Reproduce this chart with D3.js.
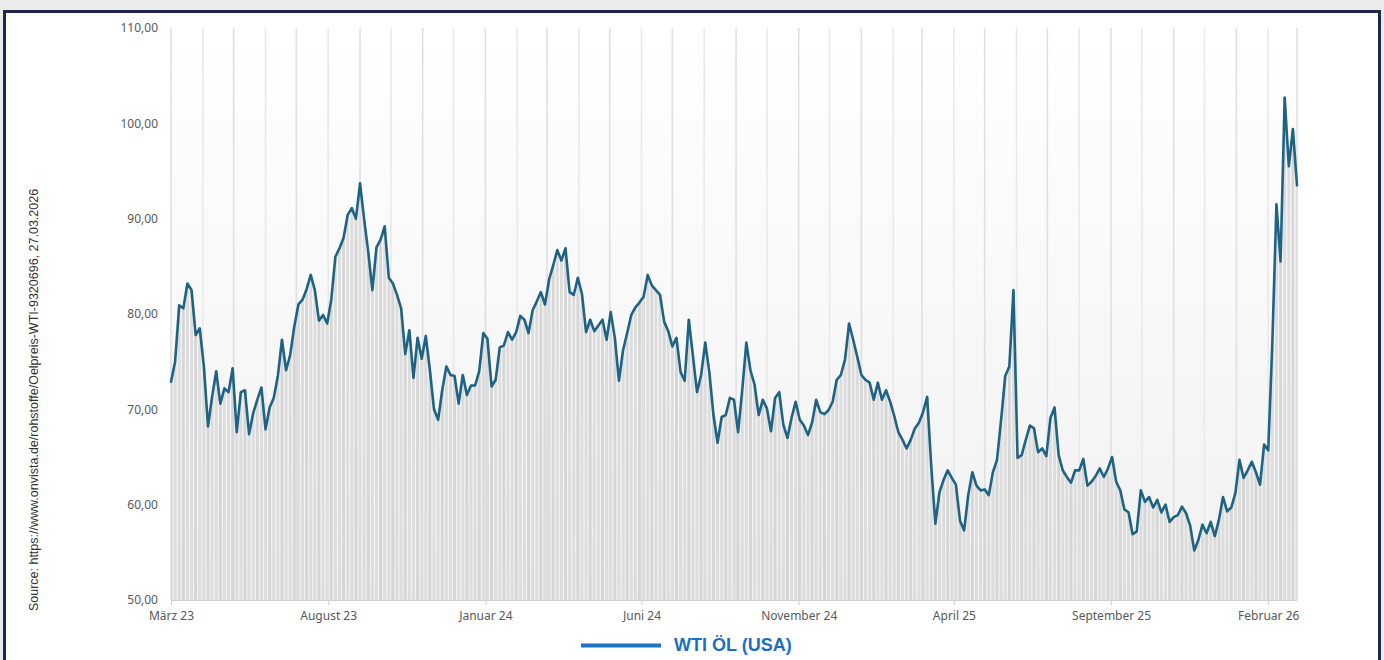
<!DOCTYPE html>
<html><head><meta charset="utf-8">
<script src="https://cdn.jsdelivr.net/npm/d3@7"></script>
<style>body{margin:0;background:#ececec;overflow:hidden}</style>
</head><body>
<svg id="c" width="1384" height="660"></svg>
<script>
const startDate = "2023-03-01";
const endDate = "2026-03-01";
const stepDays = 4;
const prices = [
72.9,75.0,80.9,80.6,83.2,82.5,77.8,78.5,74.5,68.2,
71.3,74.0,70.6,72.2,71.8,74.3,67.6,71.8,72.0,67.4,
69.6,71.0,72.3,67.9,70.2,71.2,73.5,77.3,74.1,75.7,
78.7,81.0,81.5,82.6,84.1,82.5,79.3,79.9,79.0,81.5,
86.0,86.9,88.0,90.4,91.1,90.0,93.7,89.9,86.5,82.5,
87.0,87.8,89.2,83.8,83.2,82.0,80.6,75.8,78.3,73.3,
77.5,75.3,77.7,74.1,70.0,68.9,72.0,74.5,73.6,73.5,
70.6,73.6,71.5,72.5,72.5,74.0,78.0,77.4,72.4,73.1,
76.5,76.7,78.1,77.3,78.1,79.8,79.4,78.0,80.4,81.3,
82.3,81.0,83.6,85.1,86.7,85.6,86.9,82.3,82.0,83.8,
82.1,78.1,79.4,78.2,78.8,79.4,77.3,80.2,77.5,73.0,
76.2,78.0,79.9,80.7,81.2,81.8,84.1,83.0,82.5,82.0,
79.2,78.2,76.6,77.5,73.9,73.0,79.4,75.6,71.8,73.6,
77.0,73.9,69.4,66.5,69.2,69.4,71.2,71.0,67.6,72.0,
77.0,74.1,72.6,69.4,71.0,70.1,67.7,71.2,71.8,68.4,
67.0,69.1,70.8,68.9,68.3,67.3,68.6,71.0,69.7,69.5,
69.9,70.8,73.1,73.6,75.2,79.0,77.3,75.5,73.6,73.1,
72.8,71.0,72.8,71.0,72.0,70.8,69.3,67.6,66.8,65.9,
66.8,68.0,68.6,69.7,71.3,64.0,58.0,61.3,62.6,63.6,
62.8,62.1,58.3,57.3,61.0,63.4,62.0,61.5,61.6,61.0,
63.4,64.7,68.9,73.5,74.5,82.5,64.9,65.2,66.8,68.3,
68.0,65.5,65.9,65.1,69.1,70.2,65.2,63.6,62.9,62.3,
63.6,63.6,64.8,62.0,62.4,63.0,63.8,62.9,63.8,65.0,
62.4,61.5,59.5,59.2,56.9,57.2,61.5,60.3,60.8,59.7,
60.5,59.2,60.0,58.2,58.7,58.9,59.8,59.1,57.8,55.2,
56.3,57.9,57.0,58.2,56.7,58.4,60.8,59.3,59.7,61.2,
64.7,62.8,63.6,64.5,63.4,62.1,66.3,65.7,77.0,91.5,
85.5,102.7,95.5,99.4,93.5
];
const yTicks = [50,60,70,80,90,100,110];
const xTickDates = ["2023-03-01","2023-08-01","2024-01-01","2024-06-01","2024-11-01","2025-04-01","2025-09-01","2026-02-01"];
const xTickLabels = ["März 23","August 23","Januar 24","Juni 24","November 24","April 25","September 25","Februar 26"];
const seriesName = "WTI ÖL (USA)";
const sourceText = "Source: https://www.onvista.de/rohstoffe/Oelpreis-WTI-9320696, 27.03.2026";

const parse = d3.utcParse("%Y-%m-%d");
const t0 = parse(startDate), t1 = parse(endDate);
const data = prices.map((v, i) => ({date: d3.utcDay.offset(t0, i * stepDays), value: v}));

const svg = d3.select("#c");
const W = 1384, H = 660;
const plot = {l: 171, r: 1297, t: 28, b: 600};

svg.append("rect").attr("width", W).attr("height", H).attr("fill", "#ececec");
svg.append("rect").attr("x", 4.5).attr("y", 11.5).attr("width", 1375).attr("height", 700)
  .attr("fill", "#ffffff").attr("stroke", "#1b2a49").attr("stroke-width", 3);

const defs = svg.append("defs");
const grad = defs.append("linearGradient").attr("id", "bg").attr("x1", 0).attr("y1", 0).attr("x2", 0).attr("y2", 1);
grad.append("stop").attr("offset", "0%").attr("stop-color", "#ffffff");
grad.append("stop").attr("offset", "100%").attr("stop-color", "#f1f1f1");
defs.append("clipPath").attr("id", "clip").append("rect")
  .attr("x", plot.l).attr("y", plot.t - 5).attr("width", plot.r - plot.l).attr("height", plot.b - plot.t + 5);

const x = d3.scaleUtc().domain([t0, t1]).range([plot.l, plot.r]);
const y = d3.scaleLinear().domain([50, 110]).range([plot.b, plot.t]);

svg.append("rect").attr("x", plot.l).attr("y", plot.t).attr("width", plot.r - plot.l).attr("height", plot.b - plot.t)
  .attr("fill", "url(#bg)");

// monthly vertical gridlines
const months = d3.utcMonth.range(t0, d3.utcDay.offset(t1, 1));
svg.append("g").selectAll("line").data(months).join("line")
  .attr("x1", d => x(d)).attr("x2", d => x(d))
  .attr("y1", plot.t).attr("y2", plot.b)
  .attr("stroke", (d, i) => i % 2 ? "#e9e9e9" : "#e0e0e0").attr("stroke-width", 1.6);

// bars
const pitch = x(d3.utcDay.offset(t0, stepDays)) - x(t0);
const bw = pitch * 0.72;
svg.append("g").attr("clip-path", "url(#clip)").selectAll("rect").data(data).join("rect")
  .attr("x", d => x(d.date) - bw / 2)
  .attr("y", d => y(d.value))
  .attr("width", bw)
  .attr("height", d => plot.b - y(d.value))
  .attr("fill", (d, i) => i % 3 === 0 ? "#d6d6d6" : "#dddddd");

// x axis line and ticks
svg.append("line").attr("x1", plot.l).attr("x2", plot.r).attr("y1", plot.b + 0.5).attr("y2", plot.b + 0.5)
  .attr("stroke", "#d0d0d0").attr("stroke-width", 1);
const xg = svg.append("g").attr("transform", `translate(0,${plot.b})`)
  .call(d3.axisBottom(x).tickValues(xTickDates.map(parse)).tickSize(5).tickPadding(6)
    .tickFormat((d, i) => xTickLabels[i]));
xg.select(".domain").remove();
xg.selectAll(".tick line").attr("stroke", "#cfcfcf");
xg.selectAll(".tick text").attr("fill", "#595959").attr("font-family", "Noto Sans, sans-serif").attr("font-size", 12);

// y axis labels
const yg = svg.append("g").attr("transform", `translate(${plot.l},0)`)
  .call(d3.axisLeft(y).tickValues(yTicks).tickSize(0).tickPadding(13)
    .tickFormat(d => d3.format(".2f")(d).replace(".", ",")));
yg.select(".domain").remove();
yg.selectAll(".tick text").attr("fill", "#595959").attr("font-family", "Noto Sans, sans-serif").attr("font-size", 12);

// line
const line = d3.line().x(d => x(d.date)).y(d => y(d.value));
svg.append("path").datum(data).attr("d", line)
  .attr("fill", "none").attr("stroke", "#1f6384").attr("stroke-width", 2.6)
  .attr("stroke-linejoin", "round").attr("stroke-linecap", "round");

// legend
svg.append("line").attr("x1", 581).attr("x2", 661).attr("y1", 645.5).attr("y2", 645.5)
  .attr("stroke", "#1b74c5").attr("stroke-width", 4);
svg.append("text").attr("x", 674).attr("y", 651).text(seriesName)
  .attr("fill", "#1b6fc2").attr("font-family", "Liberation Sans, Arial, sans-serif")
  .attr("font-weight", "bold").attr("font-size", 18);

// source
svg.append("text").attr("transform", "translate(38,400) rotate(-90)").attr("text-anchor", "middle")
  .text(sourceText).attr("fill", "#333333").attr("font-family", "Liberation Sans, Arial, sans-serif")
  .attr("font-size", 12.5);
</script>
</body></html>
